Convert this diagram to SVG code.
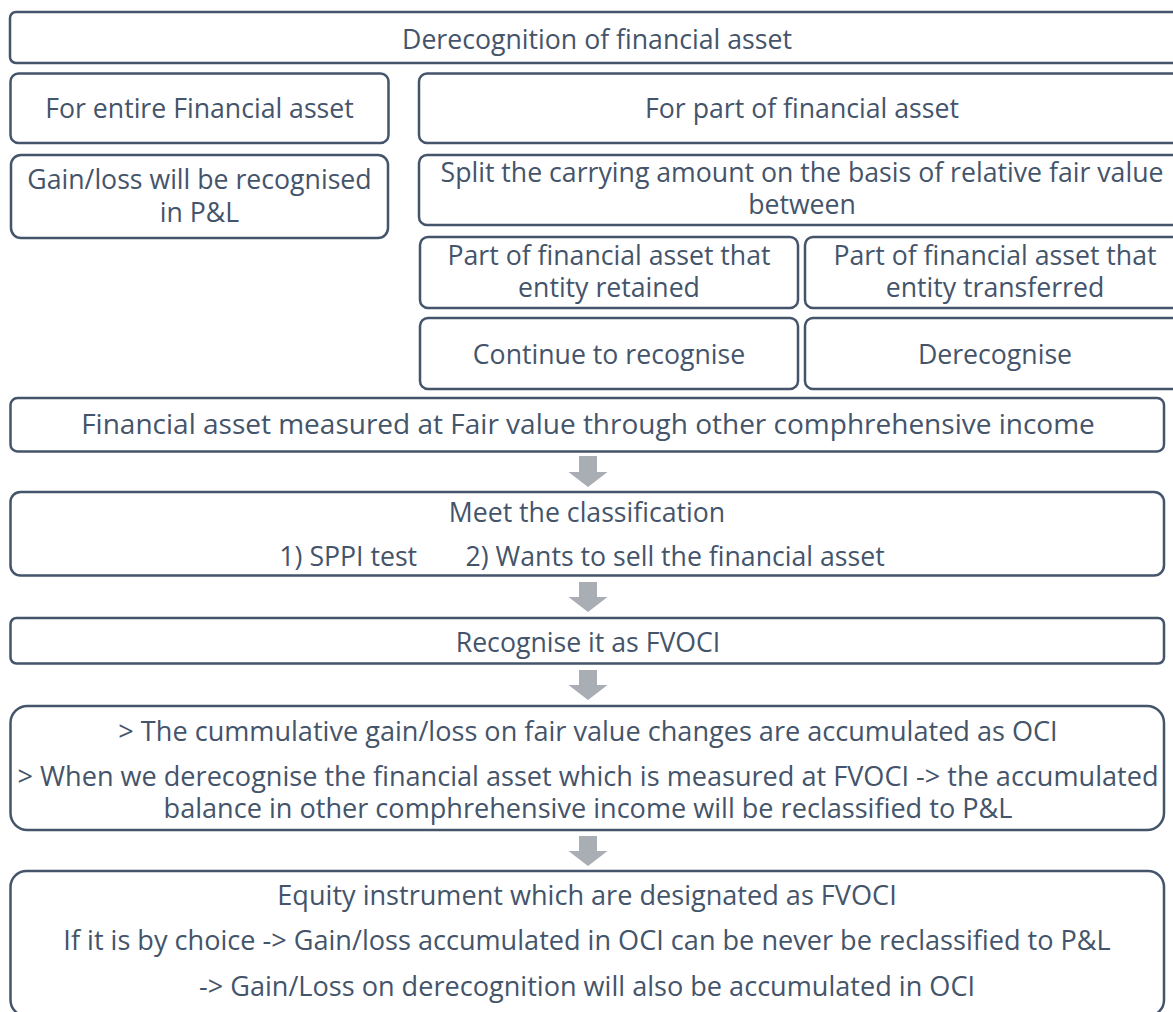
<svg xmlns="http://www.w3.org/2000/svg" width="1173" height="1012" viewBox="0 0 1173 1012">
  <defs>
    <style>
      .box { fill: #ffffff; stroke: #44546a; stroke-width: 2.5; }
      .t { font-family: "Open Sans", "Liberation Sans", sans-serif; font-size: 26.67px; fill: #44546a; text-anchor: middle; }
      .wide { font-size: 28px; }
      .low { font-size: 27.1px; }
      .pre { white-space: pre; }
      .arrow { fill: #a9adb4; }
    </style>
  </defs>
  <rect width="1173" height="1012" fill="#ffffff"/>

  <g id="derecognition">
    <rect class="box" x="10" y="12" width="1175" height="51" rx="6"/>
    <text class="t" x="597" y="49">Derecognition of financial asset</text>
  </g>

  <g id="entire-asset">
    <rect class="box" x="10.5" y="73.5" width="378" height="69.5" rx="8"/>
    <text class="t" x="199.5" y="118">For entire Financial asset</text>
  </g>

  <g id="gain-loss-pl">
    <rect class="box" x="11" y="155" width="377" height="83" rx="10"/>
    <text class="t" x="199.5" y="189">Gain/loss will be recognised</text>
    <text class="t" x="199.5" y="222">in P&amp;L</text>
  </g>

  <g id="part-asset">
    <rect class="box" x="419" y="73.5" width="766" height="69.5" rx="8"/>
    <text class="t" x="802" y="118">For part of financial asset</text>
  </g>

  <g id="split-carrying">
    <rect class="box" x="419" y="155" width="766" height="70" rx="8"/>
    <text class="t" x="802" y="182">Split the carrying amount on the basis of relative fair value</text>
    <text class="t" x="802" y="214">between</text>
  </g>

  <g id="part-retained">
    <rect class="box" x="420" y="237" width="378" height="71" rx="8"/>
    <text class="t" x="609" y="265">Part of financial asset that</text>
    <text class="t" x="609" y="297">entity retained</text>
  </g>

  <g id="part-transferred">
    <rect class="box" x="805" y="237" width="380" height="71" rx="8"/>
    <text class="t" x="995" y="265">Part of financial asset that</text>
    <text class="t" x="995" y="297">entity transferred</text>
  </g>

  <g id="continue-recognise">
    <rect class="box" x="420" y="318" width="378" height="71" rx="8"/>
    <text class="t" x="609" y="364">Continue to recognise</text>
  </g>

  <g id="derecognise">
    <rect class="box" x="805" y="318" width="380" height="71" rx="8"/>
    <text class="t" x="995" y="364">Derecognise</text>
  </g>

  <g id="fvoci-measured">
    <rect class="box" x="10.5" y="398" width="1153.5" height="53.5" rx="7"/>
    <text class="t wide" x="588" y="434">Financial asset measured at Fair value through other comphrehensive income</text>
  </g>

  <g id="classification">
    <rect class="box" x="10.5" y="492" width="1153.5" height="83.5" rx="10"/>
    <text class="t" x="587" y="522">Meet the classification</text>
    <text class="t pre" x="582" y="566">1) SPPI test       2) Wants to sell the financial asset</text>
  </g>

  <g id="recognise-fvoci">
    <rect class="box" x="10.5" y="618" width="1153.5" height="45.5" rx="6"/>
    <text class="t" x="588" y="652">Recognise it as FVOCI</text>
  </g>

  <g id="oci-accumulation">
    <rect class="box" x="10.5" y="706" width="1153.5" height="124" rx="17"/>
    <text class="t low" x="588" y="741">&gt; The cummulative gain/loss on fair value changes are accumulated as OCI</text>
    <text class="t low" x="588" y="786">&gt; When we derecognise the financial asset which is measured at FVOCI -&gt; the accumulated</text>
    <text class="t low" x="588" y="818">balance in other comphrehensive income will be reclassified to P&amp;L</text>
  </g>

  <g id="equity-designated">
    <rect class="box" x="10.5" y="871" width="1153.5" height="145" rx="16"/>
    <text class="t low" x="587" y="905">Equity instrument which are designated as FVOCI</text>
    <text class="t low" x="587" y="950">If it is by choice -&gt; Gain/loss accumulated in OCI can be never be reclassified to P&amp;L</text>
    <text class="t low" x="587" y="996">-&gt; Gain/Loss on derecognition will also be accumulated in OCI</text>
  </g>

  <g id="connectors">
    <path class="arrow" d="M579,456 H597 V472 H607.5 L588,487 L568.5,472 H579 Z"/>
    <path class="arrow" d="M579,582 H597 V597 H607.5 L588,612 L568.5,597 H579 Z"/>
    <path class="arrow" d="M579,670 H597 V685 H607.5 L588,700 L568.5,685 H579 Z"/>
    <path class="arrow" d="M579,836 H597 V851 H607.5 L588,866 L568.5,851 H579 Z"/>
  </g>
</svg>
